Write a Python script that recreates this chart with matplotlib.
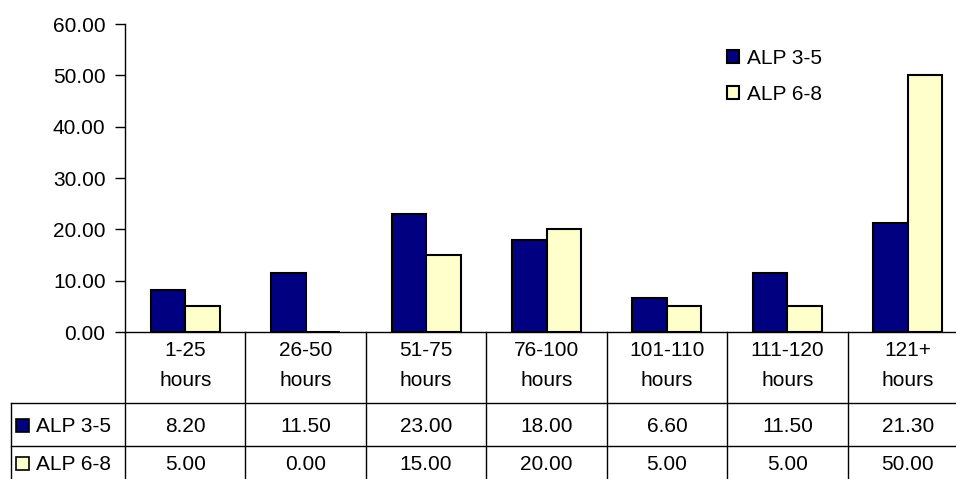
import matplotlib.pyplot as plt
from matplotlib.patches import Rectangle

plt.rcParams['font.family'] = ['Liberation Sans', 'DejaVu Sans']

# dane
categories = ["1-25\nhours", "26-50\nhours", "51-75\nhours", "76-100\nhours",
              "101-110\nhours", "111-120\nhours", "121+\nhours"]
alp_3_5 = [8.20, 11.50, 23.00, 18.00, 6.60, 11.50, 21.30]
alp_6_8 = [5.00, 0.00, 15.00, 20.00, 5.00, 5.00, 50.00]
series_names = ["ALP 3-5", "ALP 6-8"]
colors = ["#000080", "#FFFFCC"]

W, H = 956, 479
fig = plt.figure(figsize=(W / 100, H / 100), dpi=100)
# wykres siega poza prawa krawedz (jak w oryginale - tabela jest przycieta)
left, bottom, right, top = 125, 332, 968, 24
ax = fig.add_axes([left / W, 1 - bottom / H, (right - left) / W, (bottom - top) / H])


def ax_y(py):
    # piksel (od gory) -> wspolrzedna osi y
    return (bottom - py) / (bottom - top)


def ax_x(px):
    return (px - left) / (right - left)


fs = 15
x = list(range(len(categories)))
bw = 0.287
ax.bar([i - bw / 2 for i in x], alp_3_5, width=bw, color=colors[0],
       edgecolor="black", linewidth=1.5, label=series_names[0])
ax.bar([i + bw / 2 for i in x], alp_6_8, width=bw, color=colors[1],
       edgecolor="black", linewidth=1.5, label=series_names[1])

ax.set_xlim(-0.5, len(categories) - 0.5)
ax.set_ylim(0, 60)
ax.set_yticks(range(0, 61, 10))
ax.set_yticklabels([f"{v:.2f}" for v in range(0, 61, 10)])
ax.set_xticks([])
ax.tick_params(axis="y", direction="out", length=7, width=1, pad=7, labelsize=fs)
for s in ["top", "right"]:
    ax.spines[s].set_visible(False)
ax.spines["left"].set_linewidth(1)
ax.spines["bottom"].set_linewidth(1)

leg = ax.legend(loc="upper left", bbox_to_anchor=(ax_x(727), ax_y(49)),
                frameon=False, fontsize=fs, handlelength=0.58, handleheight=0.58,
                handletextpad=0.4, labelspacing=0.8, borderpad=0, borderaxespad=0)

# tabela danych pod wykresem
xt = ax.get_xaxis_transform()
row_y = [ax_y(403), ax_y(446), ax_y(489)]
for i in range(len(categories) + 1):
    ax.plot([i - 0.5, i - 0.5], [0, row_y[-1]], color="black", lw=1,
            transform=xt, clip_on=False)
for yy in row_y:
    ax.plot([ax_x(11), 1.02], [yy, yy], color="black", lw=1,
            transform=ax.transAxes, clip_on=False)
ax.plot([ax_x(11), ax_x(11)], [row_y[0], row_y[-1]], color="black", lw=1,
        transform=ax.transAxes, clip_on=False)

for i, cat in enumerate(categories):
    l1, l2 = cat.split("\n")
    ax.text(i, ax_y(351), l1, transform=xt, ha="center", va="center", fontsize=fs)
    ax.text(i, ax_y(381), l2, transform=xt, ha="center", va="center", fontsize=fs)
    ax.text(i, ax_y(426), f"{alp_3_5[i]:.2f}", transform=xt, ha="center",
            va="center", fontsize=fs)
    ax.text(i, ax_y(464), f"{alp_6_8[i]:.2f}", transform=xt, ha="center",
            va="center", fontsize=fs)

for name, col, py in zip(series_names, colors, [426, 464]):
    ax.add_patch(Rectangle((ax_x(16), ax_y(py + 6)), ax_x(29) - ax_x(16),
                           ax_y(py - 7) - ax_y(py + 6), transform=ax.transAxes,
                           facecolor=col, edgecolor="black", lw=1.2, clip_on=False))
    ax.text(ax_x(36), ax_y(py), name, transform=ax.transAxes, ha="left",
            va="center", fontsize=fs)

fig.savefig("out.png", dpi=100)
